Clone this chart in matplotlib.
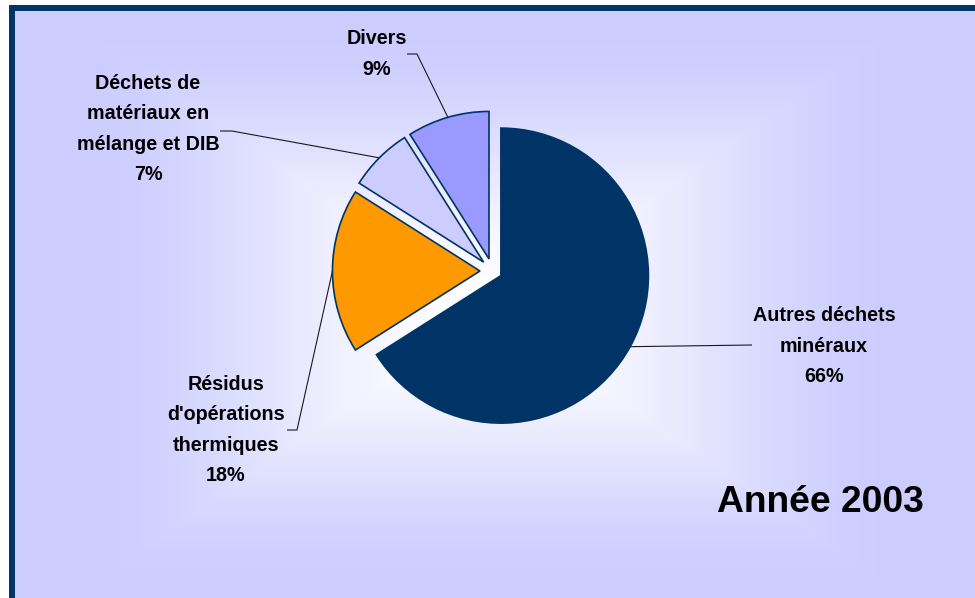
import numpy as np
import matplotlib
matplotlib.use("Agg")
import matplotlib.pyplot as plt
from matplotlib.patches import Rectangle
from matplotlib.colors import to_rgb

# Breakdown of waste by type, year 2003 (percent)
categories = [
    "Autres déchets\nminéraux",
    "Résidus\nd'opérations\nthermiques",
    "Déchets de\nmatériaux en\nmélange et DIB",
    "Divers",
]
shares = [66, 18, 7, 9]
title = "Année 2003"

# Styling
colors = ["#003366", "#FF9900", "#CCCCFF", "#9999FF"]
explode = [0.065, 0.085, 0.085, 0.085]  # fraction of the radius
navy = "#003366"

# Label layout in pixel coordinates (origin top-left)
label_pos = [(824, 346), (226, 430), (148, 129), (377, 54)]
leader_elbows = [
    [(752, 345)],
    [(287, 430), (297, 430)],
    [(220, 131), (232, 131)],
    [(407, 54), (417, 54)],
]

W, H = 975, 598
plt.rcParams["font.family"] = ["Liberation Sans", "DejaVu Sans"]

fig = plt.figure(figsize=(W / 100, H / 100), dpi=100, facecolor="white")
ax = fig.add_axes([0, 0, 1, 1])


def sy(y):
    """Convert a top-down pixel row into the axes' upward y coordinate."""
    return H - y


# Rectangular centre-out gradient from white to lavender
yy, xx = np.mgrid[0:H, 0:W] + 0.5
cx, cy, hw, hh = 490.0, 310.0, 420.0, 290.0
t = np.clip(np.maximum(np.abs(xx - cx) / hw, np.abs(yy - cy) / hh), 0, 1)
t = 3 * t ** 2 - 2 * t ** 3
edge = np.array(to_rgb("#CCCCFF"))
white = np.ones(3)
img = white[None, None, :] * (1 - t[..., None]) + edge[None, None, :] * t[..., None]
ax.imshow(img, extent=(0, W, 0, H), origin="upper", zorder=0, interpolation="bilinear")

# Frame around the chart area
ax.add_patch(Rectangle((12, -60), W + 100, sy(7.5) + 60, facecolor="none",
                       edgecolor=navy, linewidth=4.3, zorder=1))
ax.add_patch(Rectangle((0, 0), 9, H, facecolor="white", edgecolor="none", zorder=1))
ax.add_patch(Rectangle((0, sy(5)), W, 5, facecolor="white", edgecolor="none", zorder=1))

radius = 147.5
center = (492.5, sy(271))
wedges, _ = ax.pie(
    shares,
    colors=colors,
    explode=[e * radius for e in explode],
    startangle=90,
    counterclock=False,
    radius=radius,
    center=center,
    wedgeprops=dict(edgecolor=navy, linewidth=1.2),
    frame=True,
)
for w in wedges:
    w.set_zorder(3)

# Leader lines from each wedge's mid-angle on the rim to its label
for w, elbows, name, v, (lx, ly) in zip(wedges, leader_elbows, categories, shares, label_pos):
    mid = np.deg2rad((w.theta1 + w.theta2) / 2)
    ax_x = w.center[0] + w.r * np.cos(mid)
    ax_y = w.center[1] + w.r * np.sin(mid)
    xs = [ex for ex, _ in elbows] + [ax_x]
    ys = [sy(ey) for _, ey in elbows] + [ax_y]
    ax.plot(xs, ys, color="#1a1a1a", linewidth=0.8, zorder=2, solid_capstyle="butt")
    ax.text(lx, sy(ly), f"{name}\n{v}%", ha="center", va="center", fontsize=14.2,
            fontweight="bold", linespacing=1.77, color="black", zorder=4)

ax.text(820, sy(502), title, ha="center", va="center", fontsize=26.8,
        fontweight="bold", color="black", zorder=4)

ax.set_xlim(0, W)
ax.set_ylim(0, H)
ax.set_aspect("equal")
ax.axis("off")

fig.savefig("out.png", dpi=100, facecolor="white")
